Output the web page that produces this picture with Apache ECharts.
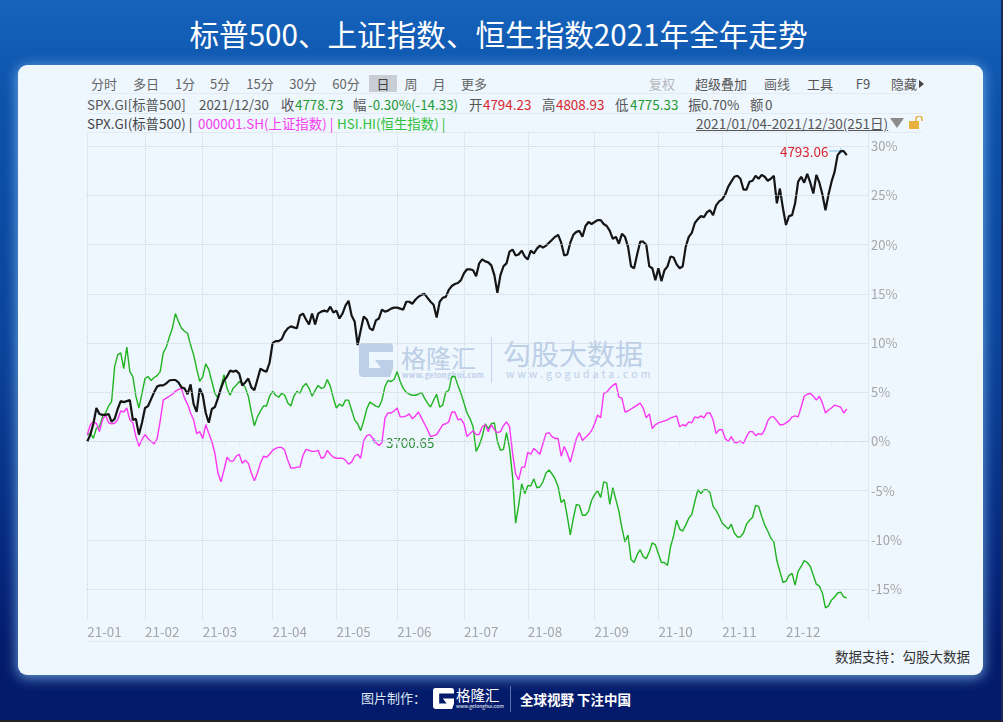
<!DOCTYPE html>
<html>
<head>
<meta charset="utf-8">
<title>标普500、上证指数、恒生指数2021年全年走势</title>
<script src="https://cdn.jsdelivr.net/npm/echarts@6/dist/echarts.min.js"></script>
<style>
  html, body { margin: 0; padding: 0; }
  body {
    width: 1003px; height: 722px; position: relative; overflow: hidden;
    font-family: "Noto Sans CJK SC", "Noto Sans", sans-serif;
    background: linear-gradient(180deg, #1563bb 0, #0d52ab 14%, #0b4299 50%, #06277d 78%, #041b6b 90%, #041b6b 100%);
  }
  #strip { position: absolute; left: 0; top: 720px; width: 1003px; height: 2px; background: #222; }
  #stripR { position: absolute; left: 1001px; top: 0; width: 2px; height: 722px; background: #1c2a55; }
  #title { position: absolute; left: 0; width: 997px; top: 13px; height: 42px; line-height: 42px; text-align: center; color: #fff; font-size: 29.6px; }
  #panel {
    position: absolute; left: 18px; top: 65px; width: 965px; height: 610px; border-radius: 9px;
    background: #eef6fe; box-shadow: 0 2px 13px 1px rgba(135, 195, 245, .75);
  }
  #main { position: absolute; left: 0; top: 0; width: 1003px; height: 722px; }
  .t { position: absolute; height: 20px; line-height: 20px; white-space: nowrap; font-size: 13px; }
  .c { transform: translateX(-50%); color: #666; }
  .r2 { top: 94px; color: #555; font-size: 13.4px; }
  .r3 { top: 113px; color: #444; font-size: 13.4px; }
  .red { color: #d9272e; }
  .grn { color: #1f9a35; }
  .hl { position: absolute; height: 1px; background: #e4eaf1; }
  .wm { position: absolute; white-space: nowrap; color: #bccfe6; }
  .ft { position: absolute; white-space: nowrap; color: #fff; }
</style>
</head>
<body>
<svg width="0" height="0" style="position:absolute">
  <symbol id="g" viewBox="0 0 34 34"><path d="M4 0H30a4 4 0 0 1 4 4v5H10v16H22L16 17H34v8l-3 9H4a4 4 0 0 1-4-4V4a4 4 0 0 1 4-4Z"/></symbol>
</svg>
<div id="title">标普500、上证指数、恒生指数2021年全年走势</div>
<div id="panel"></div>

<div style="position:absolute;left:369px;top:75px;width:28px;height:17px;background:#c9ced4"></div>
<div class="hl" style="left:87px;top:93px;width:835px"></div>
<div class="hl" style="left:87px;top:113px;width:835px"></div>
<div class="hl" style="left:87px;top:132px;width:835px"></div>
<div class="hl" style="left:87px;top:641px;width:840px"></div>

<span class="t c" style="left:104px;top:74px">分时</span>
<span class="t c" style="left:146px;top:74px">多日</span>
<span class="t c" style="left:185px;top:74px">1分</span>
<span class="t c" style="left:220px;top:74px">5分</span>
<span class="t c" style="left:260px;top:74px">15分</span>
<span class="t c" style="left:303px;top:74px">30分</span>
<span class="t c" style="left:346px;top:74px">60分</span>
<span class="t c" style="left:383px;top:74px;color:#444">日</span>
<span class="t c" style="left:411px;top:74px">周</span>
<span class="t c" style="left:439px;top:74px">月</span>
<span class="t c" style="left:474px;top:74px">更多</span>
<span class="t c" style="left:662px;top:74px;color:#b4b8bd">复权</span>
<span class="t c" style="left:721px;top:74px;color:#555">超级叠加</span>
<span class="t c" style="left:777px;top:74px">画线</span>
<span class="t c" style="left:820px;top:74px;color:#555">工具</span>
<span class="t c" style="left:863px;top:74px;color:#555">F9</span>
<span class="t c" style="left:904px;top:74px;color:#555">隐藏</span>
<svg style="position:absolute;left:919px;top:80px" width="5" height="8"><polygon points="0,0 5,4 0,8" fill="#444"/></svg>

<span class="t r2" style="left:87px">SPX.GI[标普500]</span>
<span class="t r2" style="left:199px">2021/12/30</span>
<span class="t r2" style="left:281px">收</span><span class="t r2 grn" style="left:295px">4778.73</span>
<span class="t r2" style="left:353px">幅</span><span class="t r2 grn" style="left:368px">-0.30%(-14.33)</span>
<span class="t r2" style="left:469px">开</span><span class="t r2 red" style="left:483px">4794.23</span>
<span class="t r2" style="left:542px">高</span><span class="t r2 red" style="left:556px">4808.93</span>
<span class="t r2" style="left:615px">低</span><span class="t r2 grn" style="left:630px">4775.33</span>
<span class="t r2" style="left:688px">振</span><span class="t r2" style="left:701px">0.70%</span>
<span class="t r2" style="left:750px">额</span><span class="t r2" style="left:765px">0</span>

<span class="t r3" style="left:87px">SPX.GI(标普500) |</span>
<span class="t r3" style="left:198px;color:#f53df0">000001.SH(上证指数) |</span>
<span class="t r3" style="left:337px;color:#2fc13a">HSI.HI(恒生指数) |</span>
<span class="t r3" style="left:696px;color:#555;text-decoration:underline;font-size:13.6px">2021/01/04-2021/12/30(251日)</span>
<svg style="position:absolute;left:890px;top:118px" width="14" height="10"><polygon points="0,0 14,0 7,10" fill="#8c8c8c"/></svg>
<svg style="position:absolute;left:909px;top:116px" width="15" height="13"><rect x="0" y="5" width="10" height="8" fill="#e8b23c"/><path d="M7 5V3a3 3 0 0 1 6 0v2" fill="none" stroke="#e8b23c" stroke-width="1.5"/></svg>

<!-- watermark -->
<svg style="position:absolute;left:359px;top:343px;fill:#bccfe6" width="34" height="34"><use href="#g"/></svg>
<span class="wm" style="left:401px;top:339px;font-size:25px;line-height:36px">格隆汇</span>
<span class="wm" style="left:402px;top:369px;font-size:7.5px;line-height:12px;font-weight:700;letter-spacing:.35px">www.gelonghui.com</span>
<div style="position:absolute;left:491px;top:337px;width:1px;height:46px;background:#c6d6ea"></div>
<span class="wm" style="left:503px;top:333px;font-size:28px;line-height:40px">勾股大数据</span>
<span class="wm" style="left:506px;top:367px;font-size:10.5px;line-height:14px;letter-spacing:3.1px">www.gogudata.com</span>

<span class="t" style="left:835px;top:646px;color:#333;font-size:13.5px">数据支持：勾股大数据</span>

<!-- footer -->
<span class="ft" style="left:361px;top:688px;font-size:13px;line-height:20px;color:#dbe4f3">图片制作：</span>
<svg style="position:absolute;left:433px;top:688px;fill:#fff" width="21" height="21"><use href="#g"/></svg>
<span class="ft" style="left:456px;top:685px;font-size:14.5px;line-height:20px">格隆汇</span>
<span class="ft" style="left:456px;top:702px;font-size:5px;line-height:7px">www.gelonghui.com</span>
<div style="position:absolute;left:510px;top:686px;width:1px;height:26px;background:#5a6fa8"></div>
<span class="ft" style="left:520px;top:689px;font-size:13.5px;line-height:20px;font-weight:700">全球视野 下注中国</span>

<div id="main"></div>
<div id="strip"></div>
<div id="stripR"></div>

<script>
// month labels and the trading-day index each month starts on
const monthLabels = ['21-01', '21-02', '21-03', '21-04', '21-05', '21-06', '21-07', '21-08', '21-09', '21-10', '21-11', '21-12'];
const monthStarts = [0, 19, 38, 61, 82, 102, 124, 145, 167, 188, 209, 230];
const yTicks = [-15, -10, -5, 0, 5, 10, 15, 20, 25, 30];

// pct change per trading day
const spx = [
  0, 0.7, 1.8, 3.4, 2.8, 2.7, 2.7, 2.8, 2.0, 2.3,
  3.3, 4.1, 4.0, 4.1, 4.2, 2.2, 2.3, 0.7, 1.9, 3.4,
  3.6, 4.3, 5.0, 5.6, 5.7, 5.7, 5.9, 6.2, 6.25, 6.25,
  6.0, 5.5, 5.4, 4.8, 5.8, 3.8, 3.0, 5.4, 4.7, 2.9,
  1.9, 3.3, 3.5, 4.4, 5.4, 6.2, 6.6, 7.2, 7.1, 7.2,
  6.9, 5.7, 6.0, 6.4, 5.5, 5.2, 6.3, 7.4, 7.2, 7.1,
  8.0, 10.0, 10.2, 10.2, 10.4, 11.1, 11.5, 11.7, 11.6, 11.5,
  12.8, 13.0, 12.4, 11.9, 13.0, 11.9, 13.0, 13.2, 13.3, 13.2,
  13.7, 13.1, 13.3, 12.5, 13.0, 13.8, 14.3, 12.8, 12.2, 9.8,
  11.3, 12.7, 12.4, 11.5, 11.3, 12.3, 12.5, 13.4, 13.2, 13.3,
  13.5, 13.6, 13.6, 13.5, 13.4, 14.2, 14.2, 14.0, 14.4, 14.7,
  14.9, 15.0, 14.6, 14.2, 13.9, 12.6, 14.2, 14.6, 14.7, 15.4,
  15.8, 16.0, 16.1, 16.4, 17.1, 17.5, 17.5, 17.4, 16.8, 18.1,
  18.5, 18.3, 18.2, 17.9, 16.9, 15.1, 16.9, 17.8, 18.1, 19.3,
  19.5, 18.9, 19.0, 19.4, 18.8, 18.5, 19.4, 19.1, 19.6, 19.9,
  19.7, 19.9, 20.2, 20.5, 20.8, 21.0, 20.2, 18.9, 19.0, 20.2,
  21.0, 21.3, 21.4, 20.8, 21.9, 22.3, 22.1, 22.3, 22.5, 22.5,
  22.1, 21.9, 21.4, 20.6, 20.8, 20.1, 21.1, 20.8, 19.8, 17.8,
  17.6, 19.0, 20.3, 20.3, 20.0, 17.8, 17.6, 16.4, 17.6, 16.3,
  17.4, 17.8, 18.8, 18.7, 18.0, 17.6, 17.8, 19.8, 20.8, 21.2,
  22.2, 22.6, 22.9, 22.8, 23.3, 23.5, 23.0, 24.0, 24.4, 24.6,
  25.1, 25.9, 26.4, 26.9, 27.0, 26.7, 25.6, 25.6, 26.4, 26.5,
  27.0, 26.7, 27.1, 26.9, 26.5, 26.7, 27.0, 24.2, 25.7, 23.7,
  22.0, 22.9, 23.0, 24.2, 26.4, 26.9, 26.3, 27.2, 26.3, 25.2,
  27.1, 26.3, 25.1, 23.5, 25.1, 26.4, 27.4, 29.1, 29.5, 29.5,
  29.1
];
const sse = [
  0.66, 1.7, 2.0, 1.85, 1.0, 2.2, 2.7, 1.9, 1.8, 1.85,
  2.2, 3.1, 3.0, 3.4, 2.2, 1.9, 0.5, -0.5, 0.2, 0.7,
  0.3, 0, -0.25, 0.3, 2.1, 4.2, 4.4, 4.6, 4.8, 5.1,
  5.3, 5.4, 4.4, 3.8, 2.9, 2.2, 0.8, 1.0, 0.3, 1.7,
  0.8, 0, -1.2, -3.2, -4.1, -2.9, -1.6, -2.0, -2.0, -1.5,
  -1.3, -2.2, -1.9, -2.2, -3.2, -4.0, -3.2, -2.2, -1.5, -1.6,
  -1.3, -0.9, -0.7, -0.6, -0.6, -0.9, -1.9, -2.7, -2.7, -2.6,
  -2.6, -1.4, -0.8, -0.9, -1.0, -1.0, -0.9, -1.7, -1.6, -0.9,
  -1.3, -1.6, -1.7, -1.7, -1.7, -1.9, -2.3, -2.1, -1.5, -1.3,
  -1.7, 0.1, 0.6, 0.7, 0.3, -0.1, -0.4, -0.1, 2.4, 2.9,
  2.9, 3.1, 3.4, 2.5, 2.5, 2.6, 2.8, 2.3, 2.6, 3.0,
  2.4, 1.8, 1.2, 0.5, 0.6, 0.7, 1.2, 1.7, 1.8, 2.0,
  3.0, 3.0, 2.2, 2.3, 1.8, 0.5, 0.8, 1.1, 0.7, 0.7,
  1.5, 1.7, 1.0, 1.7, 1.2, 0.9, 1.0, 1.6, 2.0, 1.5,
  -1.2, -3.3, -3.9, -2.6, -2.6, -1.1, -1.3, -0.7, -1.0, -1.3,
  -0.2, 0.8, 0.9, 0.5, 0.3, 0.3, -1.5, -0.5, -1.2, -2.1,
  -0.9, 0.3, 0.9, 0.1, 0.4, 0.7, 1.1, 1.8, 2.7, 2.4,
  4.9, 5.0, 5.4, 5.7, 5.9, 4.5, 4.4, 3.0, 3.1, 3.3,
  3.5, 3.7, 3.9, 3.4, 2.4, 2.8, 1.3, 1.7, 1.9, 2.0,
  2.1, 2.2, 2.4, 2.5, 2.6, 1.5, 1.7, 1.6, 2.0, 1.9,
  2.5, 2.4, 2.6, 2.4, 2.9, 2.9, 2.2, 0.8, 1.2, 1.2,
  0.3, 0, 0.5, -0.1, -0.1, 0.05, -0.2, 0.5, 1.0, 1.0,
  0.6, 0.8, 0.7, 1.2, 2.1, 2.5, 2.5, 2.1, 1.7, 1.7,
  1.9, 2.1, 2.5, 2.6, 2.5, 3.5, 4.6, 4.8, 4.9, 4.6,
  4.2, 4.6, 3.9, 2.9, 3.2, 3.4, 3.7, 3.6, 3.5, 2.9,
  3.3
];
const hsi = [
  0.66, 0.83, 0.32, 1.34, 1.5, 2.5, 2.9, 3.6, 4.05, 7.6,
  8.8, 9.0, 7.4, 9.6, 7.1, 6.6, 4.6, 3.4, 4.9, 6.4,
  6.6, 6.2, 6.5, 6.7, 7.1, 9.0, 9.6, 10.6, 11.5, 13.0,
  12.2, 11.5, 11.2, 11.0, 9.8, 8.8, 7.4, 6.1, 6.6, 7.9,
  7.3, 6.1, 4.9, 4.4, 5.6, 6.8, 5.4, 4.7, 5.4, 5.7,
  6.1, 5.9, 5.5, 4.6, 3.0, 1.6, 2.5, 3.1, 3.6, 3.6,
  4.6, 5.1, 4.7, 4.5, 4.9, 4.7, 3.9, 3.6, 4.6, 5.1,
  4.9, 5.6, 5.9, 5.4, 4.6, 5.2, 5.7, 5.4, 5.5, 6.3,
  5.6, 4.4, 3.4, 3.8, 3.6, 4.2, 4.2, 3.2, 2.2, 1.8,
  1.1, 2.1, 3.3, 4.0, 3.8, 3.6, 3.5, 4.2, 5.6, 6.2,
  6.1, 6.3, 7.1, 6.1, 5.4, 5.0, 4.8, 4.7, 4.7, 4.8,
  5.0, 4.4, 3.9, 3.5, 4.2, 4.8, 3.5, 3.7, 5.0, 5.2,
  6.6, 6.6, 5.7, 4.9, 3.9, 2.9, 2.3, 1.5, -1.0, -0.4,
  0.5, 1.8, 1.3, 1.8, 1.9, 0, -0.9, -0.8, 0.9, -0.7,
  -3.6, -8.3, -6.5, -4.3, -5.3, -4.5, -4.5, -3.8, -4.7, -4.6,
  -4.1, -3.2, -2.9, -3.3, -3.8, -4.6, -6.2, -5.9, -7.6, -9.5,
  -7.8, -6.4, -6.5, -7.5, -7.5, -7.1, -6.0, -5.4, -5.0, -5.7,
  -4.1, -4.2, -6.4, -4.7, -5.9, -7.1, -8.8, -10.2, -9.5, -12.0,
  -12.3, -11.5, -11.0, -11.7, -11.9, -11.2, -10.3, -10.5, -11.4, -12.3,
  -12.3, -12.6, -10.7, -9.6, -8.0, -8.9, -9.1, -8.5, -7.8, -7.4,
  -6.1, -4.9, -5.3, -4.9, -4.9, -5.2, -6.6, -7.0, -7.6, -8.3,
  -8.6, -8.9, -8.4, -9.3, -9.7, -9.7, -9.3, -8.4, -8.0, -7.7,
  -6.5, -6.6, -7.6, -8.5, -9.1, -9.8, -10.2, -12.1, -13.2, -14.3,
  -14.2, -13.6, -13.4, -14.6, -13.2, -12.7, -12.1, -12.3, -12.7, -13.6,
  -14.5, -14.7, -15.4, -16.9, -16.7, -16.1, -15.8, -15.4, -15.3, -15.8,
  -15.9
];

const chart = echarts.init(document.getElementById('main'), null, { renderer: 'canvas' });

// the axis runs on past the last trading day, up to the right border
const categories = Array.from({ length: 258 }, (_, i) => i);
const isMonthStart = i => monthStarts.indexOf(i) >= 0;
const font = '"Noto Sans CJK SC", "Noto Sans", sans-serif';
const line = (name, data, color, width) => ({
  name: name, type: 'line', data: data, showSymbol: false, silent: true,
  lineStyle: { color: color, width: width }, itemStyle: { color: color }
});

// y axis min is not a multiple of 5, so the horizontal grid goes through markLine
const hsiSeries = line('HSI.HI', hsi, '#1fb420', 1.4);
hsiSeries.markLine = {
  silent: true, symbol: 'none', label: { show: false }, animation: false,
  lineStyle: { color: '#cfd6de', type: 'dotted', width: 1 },
  data: yTicks.map(v => ({ yAxis: v }))
};

const option = {
  backgroundColor: 'transparent',
  animation: false,
  grid: { left: 87.3, right: 135, top: 132, bottom: 102 },
  xAxis: {
    type: 'category',
    data: categories,
    boundaryGap: false,
    axisLine: { lineStyle: { color: '#e2e8ef' } },
    axisTick: { length: 3, lineStyle: { color: '#e2e8ef' }, interval: i => i % 5 === 0 || isMonthStart(i) },
    splitLine: { show: true, interval: isMonthStart, lineStyle: { color: '#cfd6de', type: 'dotted' } },
    axisLabel: {
      interval: isMonthStart,
      formatter: (v, i) => monthLabels[monthStarts.indexOf(i)] || '',
      align: 'left', margin: 5, color: '#a6a6a6', fontSize: 13.4, fontFamily: font
    }
  },
  yAxis: {
    type: 'value',
    position: 'right',
    min: -18.14,
    max: 31.45,
    axisLine: { show: true, lineStyle: { color: '#e2e8ef' } },
    axisTick: { show: false },
    splitLine: { show: false },
    axisLabel: {
      customValues: yTicks, formatter: '{value}%', margin: 3,
      color: '#a6a6a6', fontSize: 13, fontFamily: font
    }
  },
  series: [
    hsiSeries,
    line('000001.SH', sse, '#fb35f4', 1.4),
    line('SPX.GI', spx, '#151515', 2.2)
  ],
  graphic: [
    { type: 'text', left: 780, top: 145, style: { text: '4793.06', fill: '#d9272e', fontSize: 13.4, fontFamily: font } },
    { type: 'polyline', shape: { points: [[829, 151], [843, 151]] }, style: { stroke: '#7cc0dc', lineWidth: 1, fill: null } },
    { type: 'polyline', shape: { points: [[840, 148], [843, 151], [840, 154]] }, style: { stroke: '#7cc0dc', lineWidth: 1, fill: null } },
    { type: 'text', left: 386, top: 436, style: { text: '3700.65', fill: '#2f8f3a', fontSize: 13.4, fontFamily: font } },
    { type: 'polyline', shape: { points: [[372, 441], [385, 441]] }, style: { stroke: '#7cc0dc', lineWidth: 1, fill: null } },
    { type: 'polyline', shape: { points: [[375, 438], [372, 441], [375, 444]] }, style: { stroke: '#7cc0dc', lineWidth: 1, fill: null } }
  ]
};

chart.setOption(option);
</script>
</body>
</html>
